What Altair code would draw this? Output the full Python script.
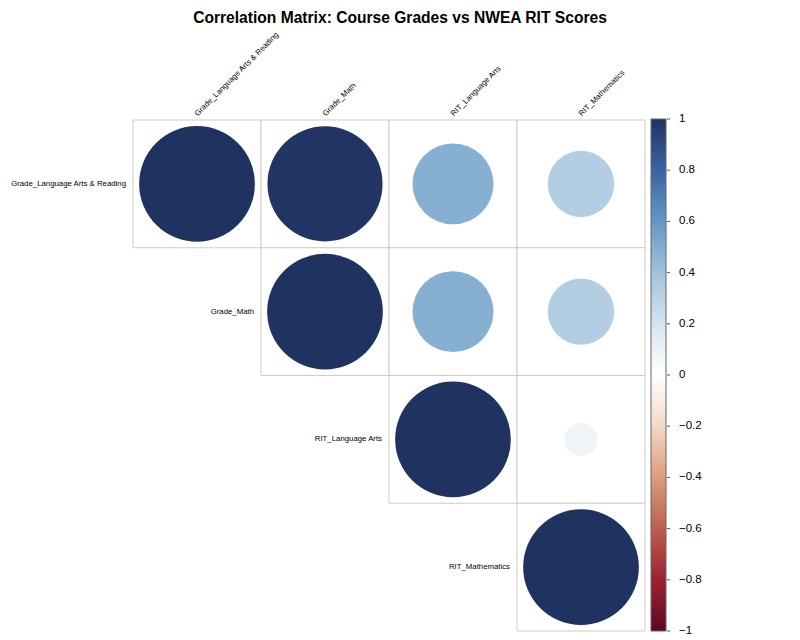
import altair as alt
import pandas as pd

variables = ["Grade_Language Arts & Reading", "Grade_Math", "RIT_Language Arts", "RIT_Mathematics"]
# upper triangle correlations (row i, col j, i <= j)
corr_rows = [0, 0, 0, 0, 1, 1, 1, 2, 2, 3]
corr_cols = [0, 1, 2, 3, 1, 2, 3, 2, 3, 3]
corr_vals = [1.0, 0.99, 0.49, 0.33, 1.0, 0.49, 0.33, 1.0, 0.08, 1.0]

stops = [-1.0, -0.8, -0.6, -0.4, -0.2, 0.0, 0.2, 0.4, 0.6, 0.8, 1.0]
palette = ["#5E0722", "#9C2233", "#BB5F50", "#DB9C7E", "#F4D8C6", "#FFFFFF",
           "#D6E4EF", "#A0C2DD", "#6697C4", "#3C63A4", "#203260"]
legend_ticks = [-1.0, -0.8, -0.6, -0.4, -0.2, 0.0, 0.2, 0.4, 0.6, 0.8, 1.0]
legend_labels = ["\u22121", "\u22120.8", "\u22120.6", "\u22120.4", "\u22120.2", "0",
                 "0.2", "0.4", "0.6", "0.8", "1"]

cells = pd.DataFrame({
    "row": [variables[i] for i in corr_rows],
    "col": [variables[j] for j in corr_cols],
    "x0": corr_cols,
    "x1": [j + 1 for j in corr_cols],
    "y0": corr_rows,
    "y1": [i + 1 for i in corr_rows],
    "xc": [j + 0.5 for j in corr_cols],
    "yc": [i + 0.5 for i in corr_rows],
    "r": corr_vals,
    "absr": [abs(v) for v in corr_vals],
})

n = len(variables)
row_labels = pd.DataFrame({"name": variables, "x": list(range(n)), "y": [i + 0.5 for i in range(n)]})
col_labels = pd.DataFrame({"name": variables, "x": [i + 0.5 for i in range(n)], "y": [0] * n})
tick_df = pd.DataFrame({"v": legend_ticks, "lab": legend_labels})

xs = alt.Scale(domain=[0, n], nice=False, zero=False)
ys = alt.Scale(domain=[0, n], nice=False, zero=False, reverse=True)
bar_scale = alt.Scale(domain=[-1, 1], range=[511, -1])

base = alt.Chart(cells)

grid = base.mark_rect(fill="white", stroke="#cccccc", strokeWidth=1).encode(
    x=alt.X("x0:Q", scale=xs, axis=None),
    x2="x1:Q",
    y=alt.Y("y0:Q", scale=ys, axis=None),
    y2="y1:Q",
)

circles = base.mark_circle(opacity=1, strokeWidth=0).encode(
    x=alt.X("xc:Q", scale=xs, axis=None),
    y=alt.Y("yc:Q", scale=ys, axis=None),
    size=alt.Size("absr:Q", scale=alt.Scale(domain=[0, 1], range=[0, 13386]), legend=None),
    color=alt.Color(
        "r:Q",
        scale=alt.Scale(domain=stops, range=palette, interpolate="rgb"),
        legend=alt.Legend(
            title=None,
            orient="none",
            legendX=518,
            legendY=-1,
            direction="vertical",
            gradientLength=512,
            gradientThickness=15,
            gradientStrokeColor="#666666",
            gradientStrokeWidth=1,
            labelExpr="''",
        ),
    ),
    tooltip=["row", "col", "r"],
)

rlab = alt.Chart(row_labels).mark_text(
    align="right", baseline="middle", dx=-7, fontSize=7.8, font="Liberation Sans", color="black"
).encode(
    x=alt.X("x:Q", scale=xs, axis=None),
    y=alt.Y("y:Q", scale=ys, axis=None),
    text="name:N",
)

clab = alt.Chart(col_labels).mark_text(
    align="left", baseline="bottom", angle=315, dx=3, fontSize=7.8, font="Liberation Sans", color="black"
).encode(
    x=alt.X("x:Q", scale=xs, axis=None),
    y=alt.Y("y:Q", scale=ys, axis=None),
    text="name:N",
)

ticks = alt.Chart(tick_df).mark_rule(color="#555555", strokeWidth=1).encode(
    x=alt.value(534),
    x2=alt.value(537),
    y=alt.Y("v:Q", scale=bar_scale, axis=None),
)

tick_text = alt.Chart(tick_df).mark_text(
    align="left", baseline="middle", fontSize=11.5, font="Liberation Sans", color="black"
).encode(
    x=alt.value(546),
    y=alt.Y("v:Q", scale=bar_scale, axis=None),
    text="lab:N",
)

chart = alt.layer(grid, circles, rlab, clab, ticks, tick_text).resolve_scale(y="independent").properties(
    width=512,
    height=511,
    title=alt.TitleParams(
        "Correlation Matrix: Course Grades vs NWEA RIT Scores",
        fontSize=15.6,
        fontWeight="bold",
        font="Liberation Sans",
        anchor="middle",
        frame="group",
        dx=11,
        color="black",
    ),
    autosize=alt.AutoSizeParams(type="none"),
    padding={"left": 125, "top": 112, "right": 147, "bottom": 8},
).configure_view(stroke=None)

chart.save("out.html", embed_options={"renderer": "svg", "actions": False})
